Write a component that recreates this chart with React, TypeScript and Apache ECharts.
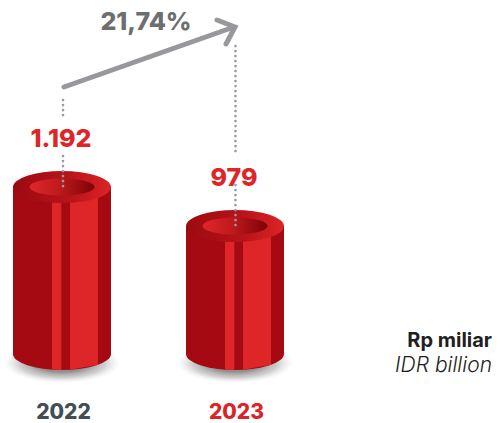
import React, { useEffect, useRef } from "react";
import * as echarts from "echarts";

const categories = ["2022", "2023"];
const values = [1192, 979];
const valueLabels = ["1.192", "979"];
const categoryColors = ["#414e56", "#dc2428"];
const changeLabel = "21,74%";
const unitLines = ["Rp miliar", "IDR billion"];

const FONT = "Inter, 'Open Sans', sans-serif";
const DARK = "#a50a12";
const LIGHT = "#de2528";
const BASE_VALUE = 280;

function ell(cx: number, cy: number, rx: number, ry: number) {
  return `M${cx - rx} ${cy}A${rx} ${ry} 0 1 1 ${cx + rx} ${cy}A${rx} ${ry} 0 1 1 ${cx - rx} ${cy}Z`;
}

function renderCylinder(params: any, api: any) {
  const i = api.value(0);
  const [cx, topY] = api.coord([i, api.value(1)]);
  const [, botY] = api.coord([i, BASE_VALUE]);
  const rx = 49, ry = 16;
  const strip = (a: number, b: number, fill: string) => ({
    type: "path",
    shape: {
      pathData: `M${cx + a} ${topY}L${cx + b} ${topY}L${cx + b} ${botY + Math.sqrt(Math.max(0, 1 - (b * b) / (rx * rx))) * ry}` +
        `L${cx + a} ${botY + Math.sqrt(Math.max(0, 1 - (a * a) / (rx * rx))) * ry}Z`,
    },
    style: { fill },
  });
  const body = {
    type: "path",
    shape: {
      pathData: `M${cx - rx} ${topY}L${cx + rx} ${topY}L${cx + rx} ${botY}A${rx} ${ry} 0 0 1 ${cx - rx} ${botY}Z`,
    },
    style: { fill: DARK },
  };
  const shadow = {
    type: "path",
    shape: { pathData: ell(cx, botY + 9, 58, 20) },
    style: {
      fill: new echarts.graphic.RadialGradient(0.5, 0.5, 0.5, [
        { offset: 0, color: "rgba(120,120,120,1)" },
        { offset: 0.45, color: "rgba(140,140,140,0.95)" },
        { offset: 0.75, color: "rgba(180,180,180,0.6)" },
        { offset: 1, color: "rgba(220,220,220,0)" },
      ]),
    },
  };
  const outerTop = {
    type: "path",
    shape: { pathData: ell(cx, topY, rx, ry) },
    style: {
      fill: new echarts.graphic.LinearGradient(0, 0, 1, 0, [
        { offset: 0, color: "#9c0a10" },
        { offset: 0.6, color: "#b9141a" },
        { offset: 1, color: "#dc2428" },
      ]),
    },
  };
  const innerTop = {
    type: "path",
    shape: { pathData: ell(cx, topY, 32.5, 8.5) },
    style: {
      fill: new echarts.graphic.LinearGradient(0, 0, 1, 0, [
        { offset: 0, color: "#e0262a" },
        { offset: 0.45, color: "#c01a1e" },
        { offset: 1, color: "#7d0206" },
      ]),
    },
  };
  const label = {
    type: "text",
    style: {
      x: cx - 1,
      y: topY - 49,
      text: valueLabels[i],
      fill: LIGHT,
      font: `800 25px ${FONT}`,
      align: "center",
      verticalAlign: "middle",
    },
  };
  return {
    type: "group",
    children: [
      shadow,
      body,
      strip(-10, -0.7, LIGHT),
      strip(8, 36, LIGHT),
      outerTop,
      innerTop,
      label,
    ],
  };
}

const dotted = (x: number, y1: number, y2: number) => ({
  type: "line",
  z: 20,
  shape: { x1: x, y1, x2: x, y2 },
  style: { stroke: "#9a9ba0", lineWidth: 2.7, lineDash: [0.1, 4.9], lineCap: "round" },
});

export default function App() {
  const ref = useRef<HTMLDivElement>(null);
  useEffect(() => {
    document.body.style.margin = "0";
    const chart = echarts.init(ref.current!, undefined, { renderer: "svg" });
    chart.setOption({
      animation: false,
      backgroundColor: "#ffffff",
      grid: { left: 62, top: 0, width: 173, height: 354, outerBoundsMode: "none" },
      xAxis: {
        type: "category",
        boundaryGap: false,
        data: categories.map((c, i) => ({
          value: c,
          textStyle: { color: categoryColors[i] },
        })),
        axisLine: { show: false },
        axisTick: { show: false },
        axisLabel: {
          margin: 47, fontFamily: FONT, fontWeight: 800, fontSize: 21,
          interval: 0, hideOverlap: false, padding: [0, 0, 0, 3],
        },
      },
      yAxis: { type: "value", show: false, min: BASE_VALUE, max: 2214, splitLine: { show: false } },
      series: [
        {
          type: "custom",
          renderItem: renderCylinder,
          data: values.map((v, i) => [i, v]),
          encode: { x: 0, y: 1 },
          clip: false,
        },
      ],
      graphic: [
        dotted(63, 100, 120),
        dotted(63, 156, 189),
        dotted(235.5, 46, 152),
        dotted(235.5, 185, 227),
        {
          type: "polyline",
          z: 20,
          shape: { points: [[64, 87], [234, 27]] },
          style: { stroke: "#98979c", lineWidth: 5, lineCap: "round", fill: "none" },
        },
        {
          type: "polyline",
          z: 20,
          shape: { points: [[217, 20], [235, 27], [226, 44]] },
          style: { stroke: "#98979c", lineWidth: 5, lineCap: "round", lineJoin: "miter", fill: "none" },
        },
        {
          type: "text",
          z: 20,
          style: {
            x: 146, y: 21, text: changeLabel, fill: "#6d6e70",
            font: `800 25px ${FONT}`, align: "center", verticalAlign: "middle",
          },
        },
        {
          type: "text",
          z: 20,
          style: {
            x: 492, y: 340, text: unitLines[0], fill: "#231f20",
            font: `700 20px ${FONT}`, align: "right", verticalAlign: "middle",
          },
        },
        {
          type: "text",
          z: 20,
          style: {
            x: 492, y: 364, text: unitLines[1], fill: "#231f20",
            font: `italic 300 21px ${FONT}`, align: "right", verticalAlign: "middle",
          },
        },
      ],
    });
    return () => chart.dispose();
  }, []);
  return <div ref={ref} style={{ width: 501, height: 423 }} />;
}
